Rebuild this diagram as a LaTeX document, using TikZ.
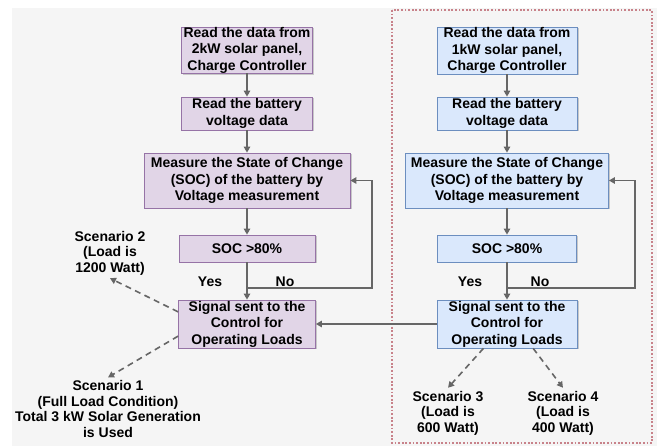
\documentclass[tikz,border=0pt]{standalone}
\usepackage{fontspec}
\setmainfont{Liberation Sans}
\usetikzlibrary{arrows.meta,shadows}

\definecolor{bgray}{HTML}{F5F5F5}
\definecolor{pfill}{HTML}{E1D5E7}
\definecolor{pline}{HTML}{9673A6}
\definecolor{bfill}{HTML}{DAE8FC}
\definecolor{bline}{HTML}{6C8EBF}
\definecolor{lgray}{HTML}{666666}
\definecolor{fred}{HTML}{C8828A}

\begin{document}
\begin{tikzpicture}[x=1pt,y=-1pt]

\def\xl{247}
\def\xr{507}
\def\fbl{372}
\def\fbr{635}
\def\yno{288}

\tikzset{
  box/.style = {draw, line width=0.8pt, align=center, inner sep=0pt,
    font=\fontsize{14}{16.5}\selectfont\bfseries,
    drop shadow={shadow xshift=1.5pt, shadow yshift=-1.5pt, fill=black, opacity=0.18}},
  pbox/.style = {box, fill=pfill, draw=pline},
  bbox/.style = {box, fill=bfill, draw=bline},
  txt/.style = {align=center, inner sep=3pt, font=\fontsize{14}{15.5}\selectfont\bfseries},
  arr/.style = {draw=lgray, line width=1.3pt, -{Triangle[length=6pt,width=6.5pt]}},
  darr/.style = {arr, line width=1.6pt, dash pattern=on 6pt off 4.5pt}
}

\useasboundingbox (0,0) rectangle (657,446);
\fill[bgray] (12,8) rectangle (657,446);
\draw[fred, line width=1.1pt, dash pattern=on 1.8pt off 1.8pt] (392,10) rectangle (652,443);

% 2kW branch
\node[pbox, minimum width=131pt, minimum height=46pt] (L1) at (\xl,50) {Read the data from\\2kW solar panel,\\Charge Controller};
\node[pbox, minimum width=131pt, minimum height=33pt] (L2) at (\xl,113.5) {Read the battery\\voltage data};
\node[pbox, minimum width=206pt, minimum height=55pt] (L3) at (\xl,180.5) {Measure the State of Change\\(SOC) of the battery by\\Voltage measurement};
\node[pbox, minimum width=136pt, minimum height=27pt] (L4) at (\xl,248.5) {SOC >80\%};
\node[pbox, minimum width=137pt, minimum height=48pt] (L5) at (\xl,324) {Signal sent to the\\Control for\\Operating Loads};

% 1kW branch
\node[bbox, minimum width=140pt, minimum height=47pt] (R1) at (\xr,50.5) {Read the data from\\1kW solar panel,\\Charge Controller};
\node[bbox, minimum width=140pt, minimum height=33pt] (R2) at (\xr,113.5) {Read the battery\\voltage data};
\node[bbox, minimum width=203pt, minimum height=55pt] (R3) at (\xr,180.5) {Measure the State of Change\\(SOC) of the battery by\\Voltage measurement};
\node[bbox, minimum width=139pt, minimum height=27pt] (R4) at (\xr,248.5) {SOC >80\%};
\node[bbox, minimum width=140pt, minimum height=48pt] (R5) at (\xr,324) {Signal sent to the\\Control for\\Operating Loads};

% scenarios
\node[txt] (S2) at (110,253) {Scenario 2\\(Load is\\1200 Watt)};
\node[txt] (S1) at (108,409) {Scenario 1\\(Full Load Condition)\\Total 3 kW Solar Generation\\is Used};
\node[txt] (S3) at (448,413) {Scenario 3\\(Load is\\600 Watt)};
\node[txt] (S4) at (563,413) {Scenario 4\\(Load is\\400 Watt)};

\node[txt] (LY) at (210,282) {Yes};
\node[txt] (LN) at (285,282) {No};
\node[txt] (RY) at (470,282) {Yes};
\node[txt] (RN) at (540,282) {No};

\coordinate (Lno) at (\xl,\yno);
\coordinate (Lfb) at (\fbl,\yno);
\coordinate (Rno) at (\xr,\yno);
\coordinate (Rfb) at (\fbr,\yno);

\draw[arr] (L1) -- (L2);
\draw[arr] (L2) -- (L3);
\draw[arr] (L3) -- (L4);
\draw[arr] (L4) -- (L5);
\draw[arr] (Lno) -- (Lfb) |- (L3.east);

\draw[arr] (R1) -- (R2);
\draw[arr] (R2) -- (R3);
\draw[arr] (R3) -- (R4);
\draw[arr] (R4) -- (R5);
\draw[arr] (Rno) -- (Rfb) |- (R3.east);

\draw[arr] (R5) -- (L5);

\draw[darr] (L5.170) -- (S2.south);
\draw[darr] (L5.190) -- (S1.north);
\draw[darr] (R5.226) -- (S3.north);
\draw[darr] (R5.317) -- (S4.north);

\end{tikzpicture}
\end{document}
